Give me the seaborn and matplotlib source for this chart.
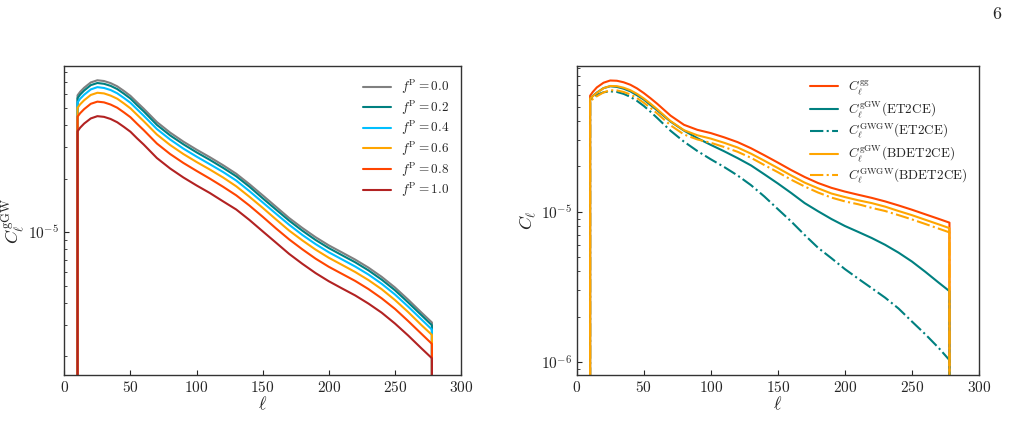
import numpy as np
import pandas as pd
import seaborn as sns
import matplotlib
matplotlib.use("Agg")
import matplotlib.pyplot as plt

# multipoles (padded with zero-valued ends so the curves drop to the axis)
ell = [9, 10, 12, 15, 20, 25, 30, 35, 40, 45, 50, 55, 60, 70, 80, 90, 100, 110, 120, 130, 140, 150,
       160, 170, 180, 190, 200, 210, 220, 230, 240, 250, 260, 270, 278, 279]

# left panel: C_l^gGW for several f^P, in units of 1e-5
fp_labels = ["0.0", "0.2", "0.4", "0.6", "0.8", "1.0"]
fp_00 = [0, 5.88, 6.16, 6.49, 6.95, 7.15, 7.08, 6.89, 6.61, 6.23, 5.84, 5.37, 4.95,
         4.16, 3.63, 3.23, 2.91, 2.64, 2.38, 2.13, 1.86, 1.61, 1.39, 1.20, 1.055, 0.936, 0.842,
         0.768, 0.700, 0.631, 0.560, 0.488, 0.417, 0.353, 0.310, 0]
fp_02 = [0, 5.67, 5.94, 6.26, 6.71, 6.90, 6.83, 6.65, 6.38, 6.01, 5.64, 5.18, 4.78,
         4.01, 3.50, 3.12, 2.81, 2.55, 2.30, 2.06, 1.80, 1.55, 1.34, 1.16, 1.018, 0.903, 0.813,
         0.741, 0.676, 0.609, 0.540, 0.471, 0.402, 0.341, 0.299, 0]
fp_04 = [0, 5.37, 5.63, 5.93, 6.35, 6.54, 6.47, 6.30, 6.04, 5.69, 5.34, 4.91, 4.52,
         3.80, 3.32, 2.95, 2.66, 2.41, 2.18, 1.95, 1.70, 1.47, 1.27, 1.10, 0.964, 0.856, 0.770,
         0.702, 0.640, 0.577, 0.512, 0.446, 0.381, 0.323, 0.283, 0]
fp_06 = [0, 5.00, 5.24, 5.52, 5.91, 6.08, 6.03, 5.86, 5.63, 5.30, 4.97, 4.57, 4.21,
         3.54, 3.09, 2.75, 2.48, 2.25, 2.03, 1.81, 1.58, 1.37, 1.18, 1.02, 0.898, 0.797, 0.717,
         0.654, 0.596, 0.537, 0.477, 0.415, 0.355, 0.300, 0.264, 0]
fp_08 = [0, 4.46, 4.67, 4.92, 5.27, 5.42, 5.37, 5.22, 5.01, 4.72, 4.43, 4.07, 3.75,
         3.15, 2.75, 2.45, 2.21, 2.00, 1.80, 1.61, 1.41, 1.22, 1.05, 0.910, 0.800, 0.709, 0.638,
         0.582, 0.531, 0.478, 0.424, 0.370, 0.316, 0.268, 0.235, 0]
fp_10 = [0, 3.69, 3.87, 4.08, 4.36, 4.49, 4.45, 4.33, 4.15, 3.91, 3.67, 3.37, 3.11,
         2.61, 2.28, 2.03, 1.83, 1.66, 1.49, 1.34, 1.17, 1.01, 0.873, 0.754, 0.663, 0.588, 0.529,
         0.482, 0.440, 0.396, 0.352, 0.306, 0.262, 0.222, 0.195, 0]
fp_colors = ["grey", "teal", "deepskyblue", "orange", "orangered", "firebrick"]

# right panel, units of 1e-5
c_gg = [0, 5.90, 6.25, 6.70, 7.20, 7.45, 7.42, 7.25, 6.98, 6.60, 6.15, 5.68, 5.22,
        4.35, 3.78, 3.50, 3.33, 3.12, 2.90, 2.64, 2.37, 2.12, 1.89, 1.70, 1.55, 1.44, 1.36,
        1.295, 1.235, 1.17, 1.10, 1.03, 0.96, 0.895, 0.845, 0]
c_ggw_et = [0, 5.61, 5.88, 6.19, 6.63, 6.82, 6.75, 6.57, 6.31, 5.94, 5.57, 5.12, 4.72,
            3.97, 3.46, 3.08, 2.78, 2.52, 2.27, 2.03, 1.77, 1.54, 1.33, 1.14, 1.006, 0.893, 0.803,
            0.733, 0.668, 0.602, 0.534, 0.466, 0.398, 0.337, 0.296, 0]
c_gwgw_et = [0, 5.50, 5.72, 5.98, 6.22, 6.31, 6.25, 6.07, 5.80, 5.45, 5.05, 4.62, 4.20,
             3.45, 2.92, 2.53, 2.23, 1.98, 1.74, 1.50, 1.26, 1.04, 0.86, 0.70, 0.575, 0.49, 0.415,
             0.358, 0.310, 0.268, 0.227, 0.186, 0.153, 0.124, 0.103, 0]
c_ggw_bd = [0, 5.65, 5.85, 6.16, 6.62, 6.85, 6.83, 6.67, 6.42, 6.07, 5.66, 5.23, 4.80,
            4.00, 3.48, 3.22, 3.06, 2.87, 2.67, 2.43, 2.18, 1.95, 1.74, 1.56, 1.43, 1.32, 1.25,
            1.19, 1.14, 1.08, 1.01, 0.948, 0.883, 0.823, 0.777, 0]
c_gwgw_bd = [0, 5.45, 5.60, 5.85, 6.21, 6.42, 6.40, 6.25, 6.02, 5.69, 5.30, 4.90, 4.50,
             3.75, 3.26, 3.02, 2.87, 2.69, 2.50, 2.28, 2.04, 1.83, 1.63, 1.47, 1.34, 1.24, 1.17,
             1.12, 1.06, 1.01, 0.948, 0.888, 0.828, 0.771, 0.728, 0]

sns.set_style("ticks")
plt.rcParams.update({
    "font.family": "serif",
    "font.serif": ["cmr10", "DejaVu Serif"],
    "mathtext.fontset": "cm",
    "axes.formatter.use_mathtext": True,
    "axes.unicode_minus": False,
    "font.size": 11,
    "xtick.direction": "in",
    "ytick.direction": "in",
    "axes.edgecolor": "#333333",
    "axes.linewidth": 1.0,
})

fig = plt.figure(figsize=(10.13, 4.46), dpi=100)
ax1 = fig.add_axes([0.0635, 0.1592, 0.3916, 0.6928])
ax2 = fig.add_axes([0.5693, 0.1592, 0.3971, 0.6928])

left = {"0.0": fp_00, "0.2": fp_02, "0.4": fp_04, "0.6": fp_06, "0.8": fp_08, "1.0": fp_10}
for lab, col in zip(fp_labels, fp_colors):
    d = pd.DataFrame({"ell": ell, "C": np.array(left[lab]) * 1e-5})
    sns.lineplot(data=d, x="ell", y="C", ax=ax1, color=col, lw=1.5, estimator=None, sort=False,
                 label=r"$f^{\rm P} = %s$" % lab)

right = [
    (c_gg, "orangered", "-", r"$C_\ell^{\rm gg}$"),
    (c_ggw_et, "teal", "-", r"$C_\ell^{\rm gGW}$(ET2CE)"),
    (c_gwgw_et, "teal", "-.", r"$C_\ell^{\rm GWGW}$(ET2CE)"),
    (c_ggw_bd, "orange", "-", r"$C_\ell^{\rm gGW}$(BDET2CE)"),
    (c_gwgw_bd, "orange", "-.", r"$C_\ell^{\rm GWGW}$(BDET2CE)"),
]
for vals, col, ls, lab in right:
    d = pd.DataFrame({"ell": ell, "C": np.array(vals) * 1e-5})
    sns.lineplot(data=d, x="ell", y="C", ax=ax2, color=col, ls=ls, lw=1.5, estimator=None, sort=False,
                 label=lab)

for ax in (ax1, ax2):
    ax.set_yscale("log")
    ax.set_xlim(0, 300)
    ax.set_xlabel(r"$\ell$", fontsize=13, labelpad=0)
    ax.tick_params(which="both", top=False, right=False)
    ax.legend(frameon=False, loc="upper right", fontsize=9.5, handlelength=2.1,
              labelspacing=0.17, handletextpad=0.75)

ax1.set_ylim(1.57e-6, 8.6e-5)
ax2.set_ylim(8.2e-7, 9.3e-5)
ax1.set_ylabel(r"$C_\ell^{\rm gGW}$", fontsize=13, labelpad=1)
ax2.set_ylabel(r"$C_\ell$", fontsize=13, labelpad=2)

fig.text(0.988, 0.968, "6", ha="right", va="center", fontsize=13)

fig.savefig("out.png", dpi=100)
